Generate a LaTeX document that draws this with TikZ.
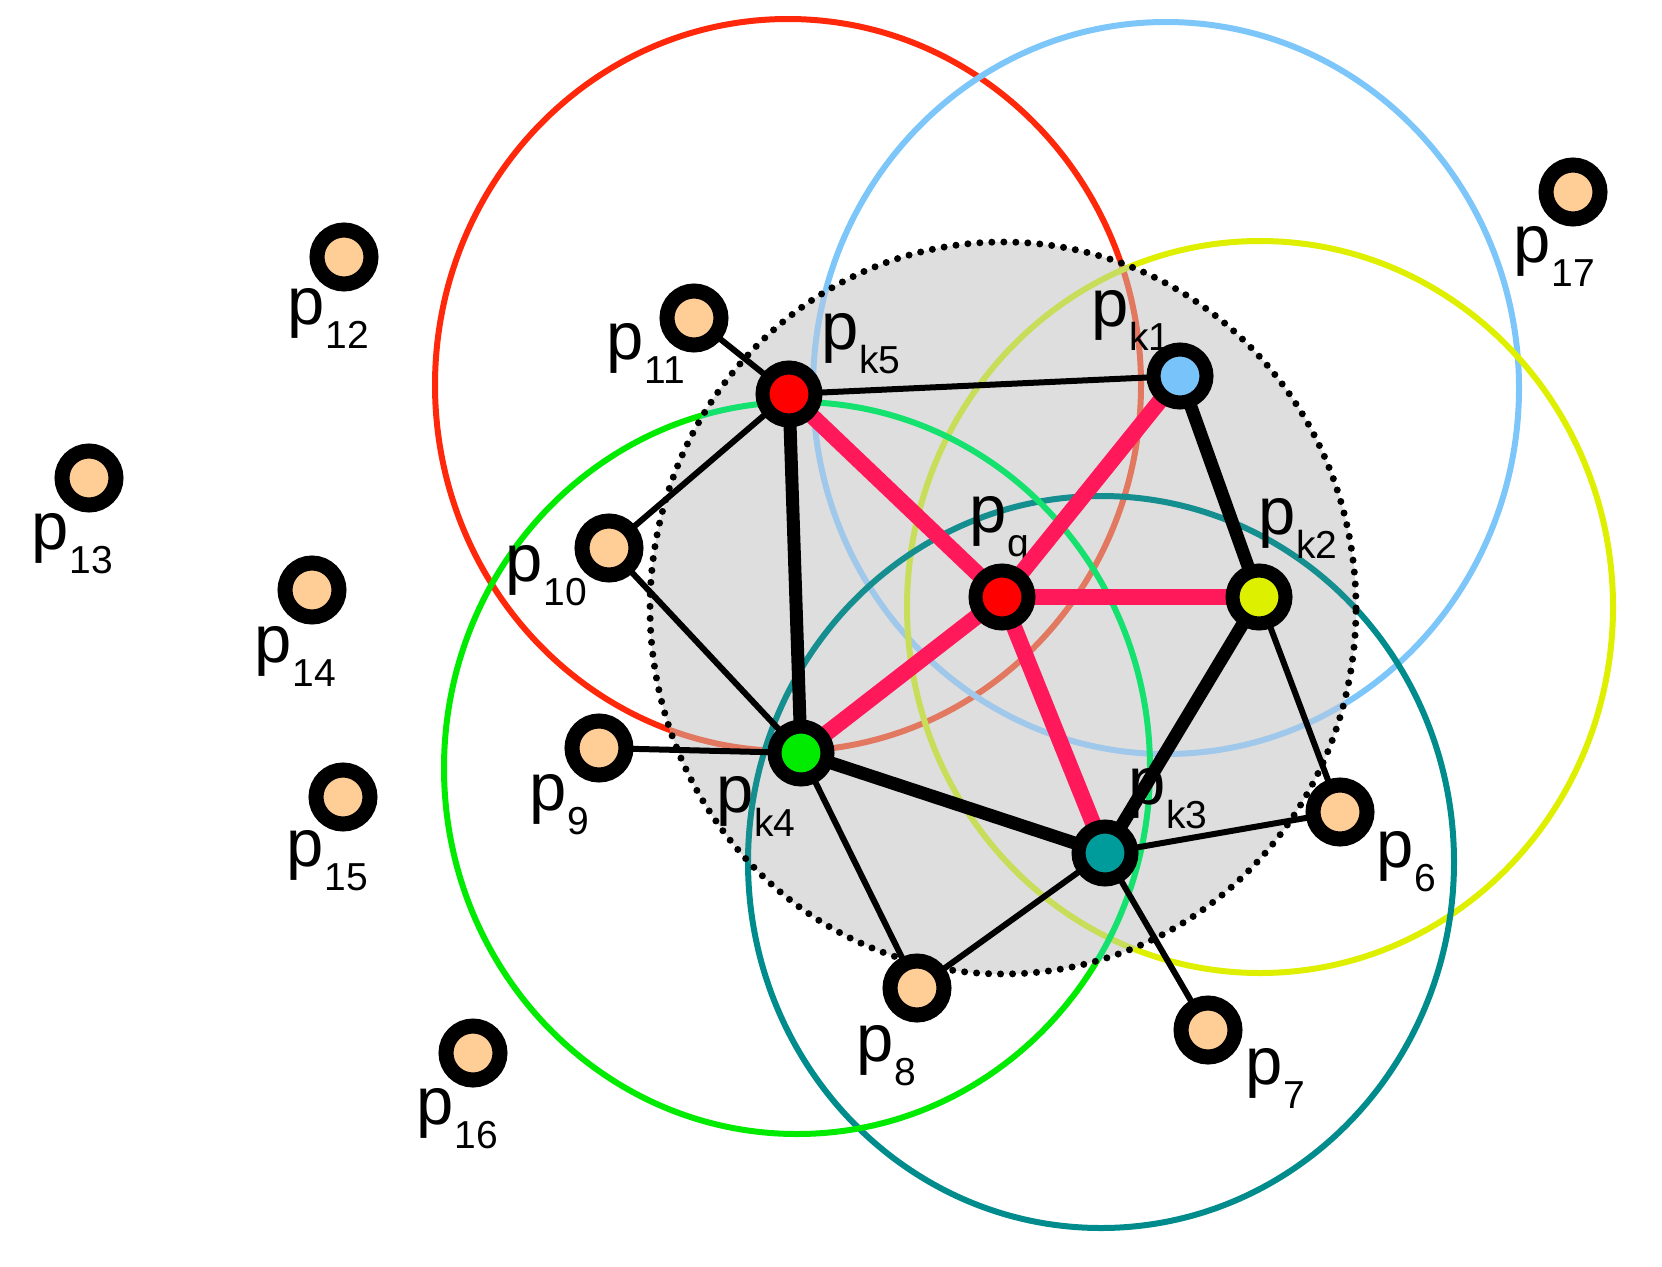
\documentclass[tikz,border=0pt]{standalone}
\usepackage{fontspec}
\setmainfont{Liberation Sans}
\pgfdeclarelayer{bg}
\pgfdeclarelayer{lab}
\pgfdeclarelayer{edges}
\pgfsetlayers{bg,lab,edges,main}
\definecolor{peach}{RGB}{255,205,150}
\definecolor{cred}{RGB}{255,40,10}
\definecolor{cblue}{RGB}{125,198,250}
\definecolor{cyel}{RGB}{222,240,0}
\definecolor{cteal}{RGB}{0,140,140}
\definecolor{cgreen}{RGB}{0,235,0}
\definecolor{tred}{RGB}{225,120,95}
\definecolor{tblue}{RGB}{160,200,235}
\definecolor{tyel}{RGB}{200,222,90}
\definecolor{tteal}{RGB}{20,142,142}
\definecolor{tgreen}{RGB}{20,225,110}
\definecolor{nred}{RGB}{255,0,0}
\definecolor{nblue}{RGB}{120,195,250}
\definecolor{nyel}{RGB}{220,240,0}
\definecolor{nteal}{RGB}{0,155,155}
\definecolor{ngreen}{RGB}{0,235,0}
\definecolor{diskgray}{RGB}{222,222,222}
\definecolor{cpink}{RGB}{255,25,90}
\newcommand\plab[1]{\fontsize{67}{67}\selectfont p\kern1pt\raisebox{-24pt}{\fontsize{39}{39}\selectfont #1}}
\tikzset{
  pt/.style={circle, draw=black, line width=15pt, minimum size=54pt, inner sep=0pt, fill=peach},
  key/.style={circle, draw=black, line width=14pt, minimum size=53pt, inner sep=0pt},
  lab/.style={anchor=base west, inner sep=0pt, text=black},
  ring/.style={line width=6pt},
  thinedge/.style={line width=6pt, black},
  thickedge/.style={line width=13pt, black},
  pinkedge/.style={line width=16pt, cpink},
  big/.style={x radius=353pt, y radius=366pt},
  disk/.style={x radius=353pt, y radius=366pt}
}
\begin{document}
\begin{tikzpicture}[x=1pt,y=-1pt]
\useasboundingbox (0,0) rectangle (1662,1266);
% circle centres
\coordinate (cR) at (788,385);
\coordinate (cB) at (1166,388);
\coordinate (cY) at (1260,607);
\coordinate (cT) at (1101,862);
\coordinate (cG) at (797,768);
\coordinate (cD) at (1003,608);

% nodes
\node[key, fill=nred]   (pq)  at (1002,597) {};
\node[key, fill=nblue]  (pk1) at (1180,376) {};
\node[key, fill=nyel]   (pk2) at (1259,597) {};
\node[key, fill=nteal]  (pk3) at (1105,853) {};
\node[key, fill=ngreen] (pk4) at (801,753) {};
\node[key, fill=nred]   (pk5) at (789,394) {};
\node[pt] (p6)  at (1340,812) {};
\node[pt] (p7)  at (1208,1030) {};
\node[pt] (p8)  at (917,988) {};
\node[pt] (p9)  at (599,748) {};
\node[pt] (p10) at (609,548) {};
\node[pt] (p11) at (694,318) {};
\node[pt] (p12) at (344,257) {};
\node[pt] (p13) at (89,478) {};
\node[pt] (p14) at (312,590) {};
\node[pt] (p15) at (343,797) {};
\node[pt] (p16) at (473,1053) {};
\node[pt] (p17) at (1573,192) {};

\begin{pgfonlayer}{bg}
  \draw[ring, cred]   (cR) ellipse [big];
  \draw[ring, cblue]  (cB) ellipse [big];
  \draw[ring, cyel]   (cY) ellipse [big];
  \draw[ring, cteal]  (cT) ellipse [big];
  \draw[ring, cgreen] (cG) ellipse [big];
  \fill[diskgray] (cD) ellipse [disk];
  \begin{scope}
    \clip (cD) ellipse [disk];
    \draw[ring, tred]   (cR) ellipse [big];
    \draw[ring, tblue]  (cB) ellipse [big];
    \draw[ring, tyel]   (cY) ellipse [big];
    \draw[ring, tteal]  (cT) ellipse [big];
    \draw[ring, tgreen] (cG) ellipse [big];
  \end{scope}
  \draw[black, line width=7pt, line cap=round, dash pattern=on 0pt off 12pt] (cD) ellipse [disk];
\end{pgfonlayer}

\begin{pgfonlayer}{lab}
  \node[lab] (l12) at (287,324) {\plab{12}};
  \node[lab] (l13) at (31,549) {\plab{13}};
  \node[lab] (l14) at (254,662) {\plab{14}};
  \node[lab] (l15) at (286,866) {\plab{15}};
  \node[lab] (l16) at (416,1124) {\plab{16}};
  \node[lab] (l17) at (1513,262) {\plab{17}};
  \node[lab] (l11) at (606,359) {\plab{11}};
  \node[lab] (l10) at (505,581) {\plab{10}};
  \node[lab] (l9)  at (529,810) {\plab{9}};
  \node[lab] (l8)  at (856,1061) {\plab{8}};
  \node[lab] (l7)  at (1245,1084) {\plab{7}};
  \node[lab] (l6)  at (1376,867) {\plab{6}};
  \node[lab] (lk5) at (821,349) {\plab{k5}};
  \node[lab] (lk1) at (1091,326) {\plab{k1}};
  \node[lab] (lq)  at (969,532) {\plab{q}};
  \node[lab] (lk2) at (1258,534) {\plab{k2}};
  \node[lab] (lk3) at (1128,804) {\plab{k3}};
  \node[lab] (lk4) at (716,812) {\plab{k4}};
\end{pgfonlayer}

\begin{pgfonlayer}{edges}
  \draw[thinedge] (pk5.center) -- (p11.center);
  \draw[thinedge] (pk5.center) -- (p10.center);
  \draw[thinedge] (p10.center) -- (pk4.center);
  \draw[thinedge] (p9.center) -- (pk4.center);
  \draw[thinedge] (pk4.center) -- (p8.center);
  \draw[thinedge] (p8.center) -- (pk3.center);
  \draw[thinedge] (pk3.center) -- (p7.center);
  \draw[thinedge] (pk3.center) -- (p6.center);
  \draw[thinedge] (pk2.center) -- (p6.center);
  \draw[thinedge] (pk5.center) -- (pk1.center);
  \draw[thickedge] (pk5.center) -- (pk4.center);
  \draw[thickedge] (pk4.center) -- (pk3.center);
  \draw[thickedge] (pk3.center) -- (pk2.center);
  \draw[thickedge] (pk2.center) -- (pk1.center);
  \draw[pinkedge] (pq.center) -- (pk1.center);
  \draw[pinkedge] (pq.center) -- (pk2.center);
  \draw[pinkedge] (pq.center) -- (pk3.center);
  \draw[pinkedge] (pq.center) -- (pk4.center);
  \draw[pinkedge] (pq.center) -- (pk5.center);
\end{pgfonlayer}
\end{tikzpicture}
\end{document}
